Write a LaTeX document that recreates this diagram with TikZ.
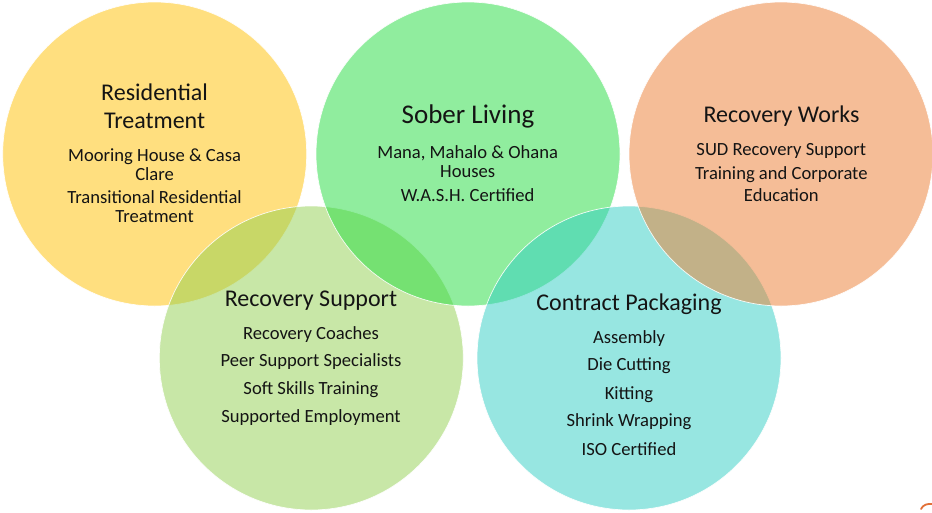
\documentclass[tikz,border=0pt]{standalone}
\usepackage{fontspec}
\setmainfont{Carlito}
\definecolor{cgold}{RGB}{255,192,0}
\definecolor{clgreen}{RGB}{146,208,80}
\definecolor{csgreen}{RGB}{35,221,63}
\definecolor{ccyan}{RGB}{49,206,196}
\definecolor{corange}{RGB}{237,125,49}
\definecolor{ctext}{RGB}{20,20,20}
\tikzset{
  bubble/.style={circle, minimum size=304pt, inner sep=0pt, fill=#1, fill opacity=0.5,
    draw=white, draw opacity=0.9, line width=0.7pt},
  ttl/.style={anchor=base, inner sep=0pt, text=ctext, font=\fontsize{24}{28}\selectfont},
  bigttl/.style={anchor=base, inner sep=0pt, text=ctext, font=\fontsize{27}{30}\selectfont},
  itm/.style={anchor=base, inner sep=0pt, text=ctext, font=\fontsize{18.6}{20}\selectfont},
}
\begin{document}
\begin{tikzpicture}[x=1pt, y=-1pt]
\useasboundingbox (0,0) rectangle (932,512);
\fill[white] (0,0) rectangle (932,512);

% overlapping circles, drawn back to front
\node[bubble=cgold]   (res) at (154.7,154) {};
\node[bubble=clgreen] (sup) at (311.3,358) {};
\node[bubble=csgreen] (sob) at (468,154) {};
\node[bubble=ccyan]   (pkg) at (629,358) {};
\node[bubble=corange] (wrk) at (781,154) {};

% Residential Treatment
\node[ttl] (res1) at (154.6,100.8) {Residential};
\node[ttl] (res2) at (154.6,128.3) {Treatment};
\node[itm] (res3) at (154.6,161) {Mooring House \& Casa};
\node[itm] (res4) at (154.6,180.7) {Clare};
\node[itm] (res5) at (154.6,203.3) {Transitional Residential};
\node[itm] (res6) at (154.6,222.7) {Treatment};

% Sober Living
\node[bigttl] (sob1) at (468,123.5) {Sober Living};
\node[itm] (sob2) at (467.7,158.3) {Mana, Mahalo \& Ohana};
\node[itm] (sob3) at (467.7,177.7) {Houses};
\node[itm] (sob4) at (467.7,201.7) {W.A.S.H. Certified};

% Recovery Works
\node[ttl] (wrk1) at (781.5,122.5) {Recovery Works};
\node[itm] (wrk2) at (781.3,155.7) {SUD Recovery Support};
\node[itm] (wrk3) at (781.3,179.3) {Training and Corporate};
\node[itm] (wrk4) at (781.3,201.7) {Education};

% Recovery Support
\node[ttl] (sup1) at (311,306.7) {Recovery Support};
\node[itm] (sup2) at (311,339) {Recovery Coaches};
\node[itm] (sup3) at (311,366.7) {Peer Support Specialists};
\node[itm] (sup4) at (311,394.7) {Soft Skills Training};
\node[itm] (sup5) at (311,422.7) {Supported Employment};

% Contract Packaging
\node[ttl] (pkg1) at (629,310.7) {Contract Packaging};
\node[itm] (pkg2) at (629,343.3) {Assembly};
\node[itm] (pkg3) at (629,370.7) {Die Cutting};
\node[itm] (pkg4) at (629,399) {Kitting};
\node[itm] (pkg5) at (629,426.7) {Shrink Wrapping};
\node[itm] (pkg6) at (629,455) {ISO Certified};

% corner mark at the lower right edge
\draw[color={rgb,255:red,226;green,112;blue,56}, line width=1.8pt, line cap=round]
  (921,509) .. controls (923,504.5) and (928,503.5) .. (932,504);
\end{tikzpicture}
\end{document}
